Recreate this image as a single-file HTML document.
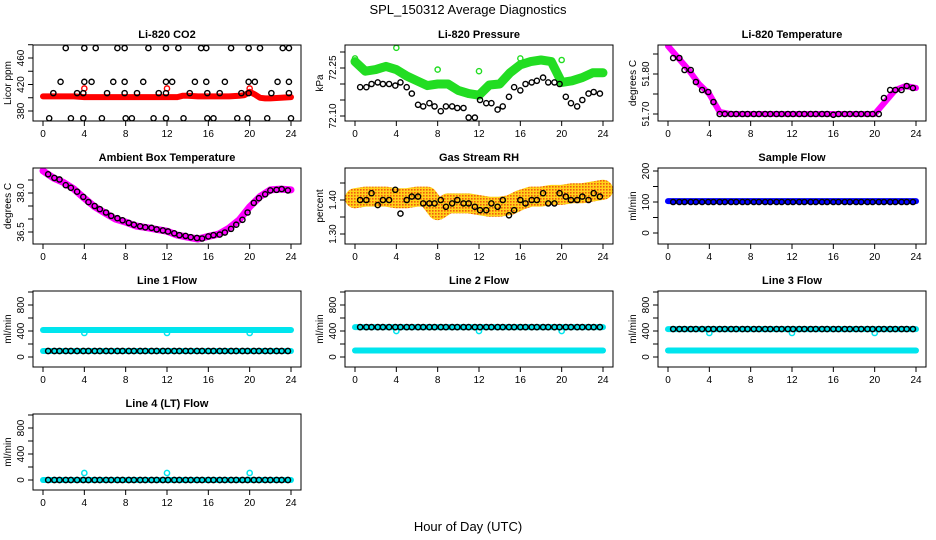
<!DOCTYPE html>
<html><head><meta charset="utf-8">
<style>
html,body{margin:0;padding:0;background:#fff;}
svg{display:block;font-family:"Liberation Sans",Arial,sans-serif;}
</style></head>
<body>
<svg id="chart" width="936" height="540" viewBox="0 0 936 540">
<defs>
<pattern id="rhpat" width="3" height="3" patternUnits="userSpaceOnUse">
<rect width="3" height="3" fill="#ffd21a"/><rect x="0" y="0" width="1.6" height="1.6" fill="#f05a10"/>
</pattern>
</defs>
<text x="468" y="14" text-anchor="middle" font-size="13">SPL_150312  Average Diagnostics</text>
<text x="468" y="531" text-anchor="middle" font-size="13">Hour of Day (UTC)</text>
</svg>
<script>
// shared hours for black circle series
const blackHours = [0.5,1.1,1.6,2.2,2.7,3.3,3.9,4.4,5.0,5.5,6.1,6.6,7.2,7.7,8.3,8.8,9.4,9.9,10.5,11.0,11.6,12.1,12.7,13.2,13.8,14.3,14.9,15.4,16.0,16.5,17.1,17.6,18.2,18.7,19.3,19.8,20.4,20.9,21.5,22.0,22.6,23.1,23.7];
const hourly = [0,1,2,3,4,5,6,7,8,9,10,11,12,13,14,15,16,17,18,19,20,21,22,23,24];
const xTicks = [0,4,8,12,16,20,24];

// CO2
const co2BlackHours = [2.2,4.0,5.1,7.2,7.9,10.2,11.9,13.1,15.3,15.8,18.2,19.9,21.0,23.2,23.8, 1.7,4.0,4.7,6.8,7.9,9.7,11.9,12.5,14.7,15.8,17.6,19.9,20.5,22.7,23.8, 1.0,3.3,3.9,6.2,7.9,9.1,11.2,11.9,14.2,15.9,17.1,19.2,19.9,22.1,23.8, 0.6,2.7,3.9,5.7,8.0,8.6,10.7,11.9,13.6,15.9,16.5,18.8,19.8,21.7,24.0];
const co2BlackVals = [475,475,475,475,475,475,475,475,475,475,475,475,475,475,475, 424,424,424,424,424,424,424,424,424,424,424,424,424,424,424, 407,407,407,407,407,407,407,407,407,407,407,407,407,407,407, 369,369,369,369,369,369,369,369,369,369,369,369,369,369,369];
const co2RedHours = [0,1,2,3,4,5,6,7,8,9,10,11,12,13,13.5,14,15,16,17,18,19,19.5,20,20.5,21,21.5,22,23,24];
const co2RedVals = [402,402,402,402,401,401,401,401,401,401,401,401,401,401,403,403,402,402,402,402,403,404,409,405,400,399,399,400,401];
const co2RedOutHours = [4,12,20];
const co2RedOutVals = [414,414,414];

// Pressure
const presGreen = [72.27,72.24,72.245,72.255,72.245,72.225,72.21,72.195,72.2,72.2,72.18,72.17,72.165,72.197,72.2,72.235,72.26,72.27,72.275,72.27,72.205,72.21,72.22,72.235,72.235];
const presGreenOutHours = [4,0,8,12,16,20];
const presGreenOutVals = [72.313,72.28,72.245,72.24,72.28,72.275];
const presBlack = [72.19,72.19,72.2,72.205,72.2,72.2,72.195,72.205,72.19,72.17,72.135,72.13,72.14,72.13,72.115,72.13,72.13,72.125,72.125,72.095,72.095,72.15,72.14,72.14,72.12,72.13,72.16,72.19,72.18,72.2,72.205,72.21,72.22,72.205,72.205,72.2,72.16,72.14,72.13,72.15,72.17,72.175,72.17];

// Li-820 temperature
const tempLine = [51.87,51.84,51.81,51.775,51.75,51.705,51.70,51.70,51.70,51.70,51.70,51.70,51.70,51.70,51.70,51.70,51.70,51.70,51.70,51.70,51.70,51.73,51.76,51.77,51.765];
const tempBlack = [51.84,51.84,51.81,51.81,51.78,51.76,51.755,51.73,51.70,51.70,51.70,51.70,51.70,51.70,51.70,51.70,51.70,51.70,51.70,51.70,51.70,51.70,51.70,51.70,51.70,51.70,51.70,51.70,51.698,51.70,51.70,51.70,51.70,51.70,51.70,51.70,51.70,51.74,51.76,51.76,51.76,51.77,51.765];

// Ambient box temperature
const ambLine = [38.85,38.58,38.4,38.15,37.8,37.47,37.23,37.0,36.88,36.73,36.67,36.6,36.53,36.38,36.3,36.23,36.33,36.42,36.65,36.97,37.47,37.86,38.12,38.15,38.12];
const ambBlack = [38.72,38.58,38.52,38.3,38.2,38.05,37.85,37.65,37.5,37.38,37.25,37.12,37.03,36.95,36.85,36.78,36.72,36.68,36.66,36.6,36.56,36.52,36.45,36.38,36.35,36.3,36.27,36.25,36.33,36.38,36.4,36.48,36.62,36.78,36.97,37.25,37.62,37.8,37.95,38.1,38.12,38.15,38.1];

// Gas stream RH
const rhMean = [1.405,1.41,1.41,1.41,1.405,1.405,1.41,1.41,1.37,1.39,1.39,1.39,1.385,1.38,1.38,1.385,1.40,1.41,1.41,1.415,1.415,1.42,1.42,1.425,1.43];
const rhBlack = [1.40,1.40,1.42,1.385,1.40,1.40,1.43,1.36,1.40,1.41,1.41,1.39,1.39,1.39,1.40,1.38,1.39,1.40,1.39,1.39,1.38,1.37,1.37,1.39,1.38,1.40,1.355,1.37,1.40,1.39,1.40,1.40,1.42,1.39,1.39,1.42,1.41,1.40,1.40,1.41,1.40,1.42,1.41];

// Flows
const spanHours = [0,24];
const sampleBlue = [103,103];
const sampleBlack = [100,100,100,100,100,100,100,100,100,100,100,100,100,100,100,100,100,100,100,100,100,100,100,100,100,100,100,100,100,100,100,100,100,100,100,100,100,100,100,100,100,100,100];
const line1CyanHi = [415,415];
const line1CyanLo = [92,92];
const line1Black = [92,92,92,92,92,92,92,92,92,92,92,92,92,92,92,92,92,92,92,92,92,92,92,92,92,92,92,92,92,92,92,92,92,92,92,92,92,92,92,92,92,92,92];
const line1Out = [370,370,370];
const line2CyanHi = [460,460];
const line2CyanLo = [100,100];
const line2Black = [460,460,460,460,460,460,460,460,460,460,460,460,460,460,460,460,460,460,460,460,460,460,460,460,460,460,460,460,460,460,460,460,460,460,460,460,460,460,460,460,460,460,460];
const line2Out = [400,400,400];
const line3CyanHi = [430,430];
const line3CyanLo = [100,100];
const line3Black = [430,430,430,430,430,430,430,430,430,430,430,430,430,430,430,430,430,430,430,430,430,430,430,430,430,430,430,430,430,430,430,430,430,430,430,430,430,430,430,430,430,430,430];
const line3Out = [370,370,370];
const line4Cyan = [0,0];
const line4Black = [0,0,0,0,0,0,0,0,0,0,0,0,0,0,0,0,0,0,0,0,0,0,0,0,0,0,0,0,0,0,0,0,0,0,0,0,0,0,0,0,0,0,0];
const line4Out = [108,108,108];
const outHours = [4,12,20];

const NS = "http://www.w3.org/2000/svg";
const svg = document.getElementById("chart");
const colLeft = [33,345,658], rowTop = [45,168,291,414], W = 268, H = 76;

function mk(tag, attrs, parent){
  const e = document.createElementNS(NS, tag);
  for (const k in attrs) e.setAttribute(k, attrs[k]);
  (parent||svg).appendChild(e);
  return e;
}

function panel(p){
  const g = mk("g", {});
  
  
  const L = colLeft[p.col], T = rowTop[p.row];
  const xs = h => L + 10 + h * (248/24);
  const ys = v => p.p0 + (v - p.v0) * (p.p1 - p.p0) / (p.v1 - p.v0);
  p.g = g; p.xs = xs; p.ys = ys;
  const clip = mk("clipPath", {id: "clip" + p.name}, g);
  mk("rect", {x: L, y: T, width: W, height: H}, clip);
  const plot = mk("g", {"clip-path": "url(#clip" + p.name + ")"}, g);
  p.plot = plot;
  p.draw(p);
  const frame = mk("rect", {x: L, y: T, width: W, height: H, fill: "none", stroke: "#000", "stroke-width": 1}, g);
  
  
  const t = mk("text", {x: L + W/2, y: T - 7, "text-anchor": "middle", "font-size": 11, "font-weight": "bold"}, g);
  t.textContent = p.title;
  
  
  xTicks.forEach(h => {
    mk("line", {x1: xs(h), x2: xs(h), y1: T + H, y2: T + H + 5, stroke: "#000"}, g);
    const lt = mk("text", {x: xs(h), y: T + H + 16, "text-anchor": "middle", "font-size": 10}, g);
    lt.textContent = h;
    
    
  });
  p.yTicks.forEach((v, i) => {
    const y = ys(v);
    mk("line", {x1: L - 5, x2: L, y1: y, y2: y, stroke: "#000"}, g);
    if (p.yLabels[i] !== "") {
      const lt = mk("text", {x: 0, y: 0, "text-anchor": "middle", "font-size": 10, transform: "translate(" + (L - 9) + "," + y + ") rotate(-90)"}, g);
      lt.textContent = p.yLabels[i];
      
      
    }
  });
  const yl = mk("text", {x: 0, y: 0, "text-anchor": "middle", "font-size": 10, transform: "translate(" + (L - 22) + "," + (T + H/2) + ") rotate(-90)"}, g);
  yl.textContent = p.ylab;
  
  
}

function line(p, hs, vs, color, w){
  const d = hs.map((h, i) => (i ? "L" : "M") + p.xs(h).toFixed(1) + "," + p.ys(vs[i]).toFixed(1)).join("");
  const e = mk("path", {d: d, fill: "none", stroke: color, "stroke-width": w, "stroke-linejoin": "round", "stroke-linecap": "round"}, p.plot);
  
  
}
function pts(p, hs, vs, color, r, sw){
  hs.forEach((h, i) => {
    const c = mk("circle", {cx: p.xs(h), cy: p.ys(vs[i]), r: r || 2.6, fill: "none", stroke: color, "stroke-width": sw || 1.4}, p.plot);
    
    
  });
}
function flowPanel(p, hi, lo, black, out, outColor){
  if (hi) line(p, spanHours, hi, "#00e5ee", 6);
  if (lo) line(p, spanHours, lo, "#00e5ee", 6);
  pts(p, outHours, out, "#00e5ee", 2.6, 1.5);
  pts(p, blackHours, black, "#000", 2.6, 1.5);
}
const flowTicks = [0,200,400,600,800,1000], flowLabels = ["0","","400","","800",""];

const panels = [
  {name:"co2-panel", col:0,row:0,title:"Li-820 CO2",ylab:"Licor ppm",v0:380,p0:111,v1:460,p1:58,
   yTicks:[380,400,420,440,460,480],yLabels:["380","","420","","460",""],
   draw:p=>{ line(p,co2RedHours,co2RedVals,"#ff0000",6); pts(p,co2RedOutHours,co2RedOutVals,"#ff0000"); pts(p,co2BlackHours,co2BlackVals,"#000"); }},
  {name:"pressure-panel", col:1,row:0,title:"Li-820 Pressure",ylab:"kPa",v0:72.10,p0:116,v1:72.25,p1:68,
   yTicks:[72.10,72.15,72.20,72.25,72.30],yLabels:["72.10","","","72.25",""],
   draw:p=>{ line(p,hourly,presGreen,"#22dd22",9); pts(p,presGreenOutHours,presGreenOutVals,"#22dd22"); pts(p,blackHours,presBlack,"#000"); }},
  {name:"licor-temp-panel", col:2,row:0,title:"Li-820 Temperature",ylab:"degrees C",v0:51.70,p0:114,v1:51.80,p1:74,
   yTicks:[51.70,51.75,51.80,51.85],yLabels:["51.70","","51.80",""],
   draw:p=>{ line(p,hourly,tempLine,"#ff00ff",6); pts(p,blackHours,tempBlack,"#000"); }},
  {name:"ambient-temp-panel", col:0,row:1,title:"Ambient Box Temperature",ylab:"degrees C",v0:36.5,p0:232,v1:38.0,p1:193,
   yTicks:[36.5,37.0,37.5,38.0,38.5],yLabels:["36.5","","","38.0",""],
   draw:p=>{ line(p,hourly,ambLine,"#ff00ff",7); pts(p,blackHours,ambBlack,"#000"); }},
  {name:"rh-panel", col:1,row:1,title:"Gas Stream RH",ylab:"percent",v0:1.30,p0:234,v1:1.40,p1:200,
   yTicks:[1.30,1.35,1.40,1.45],yLabels:["1.30","","1.40",""],
   draw:p=>{ line(p,hourly,rhMean,"url(#rhpat)",20); pts(p,blackHours,rhBlack,"#000"); }},
  {name:"sample-flow-panel", col:2,row:1,title:"Sample Flow",ylab:"ml/min",v0:0,p0:233,v1:200,p1:171,
   yTicks:[0,50,100,150,200],yLabels:["0","","100","","200"],
   draw:p=>{ line(p,spanHours,sampleBlue,"#0000ff",6); pts(p,blackHours,sampleBlack,"#000"); }},
  {name:"line1-flow-panel", col:0,row:2,title:"Line 1 Flow",ylab:"ml/min",v0:0,p0:357,v1:400,p1:331,
   yTicks:flowTicks,yLabels:flowLabels, draw:p=>flowPanel(p,line1CyanHi,line1CyanLo,line1Black,line1Out)},
  {name:"line2-flow-panel", col:1,row:2,title:"Line 2 Flow",ylab:"ml/min",v0:0,p0:357,v1:400,p1:331,
   yTicks:flowTicks,yLabels:flowLabels, draw:p=>flowPanel(p,line2CyanHi,line2CyanLo,line2Black,line2Out)},
  {name:"line3-flow-panel", col:2,row:2,title:"Line 3 Flow",ylab:"ml/min",v0:0,p0:357,v1:400,p1:331,
   yTicks:flowTicks,yLabels:flowLabels, draw:p=>flowPanel(p,line3CyanHi,line3CyanLo,line3Black,line3Out)},
  {name:"line4-flow-panel", col:0,row:3,title:"Line 4 (LT) Flow",ylab:"ml/min",v0:0,p0:480,v1:400,p1:454,
   yTicks:flowTicks,yLabels:flowLabels, draw:p=>flowPanel(p,line4Cyan,null,line4Black,line4Out)}
];
panels.forEach(panel);
</script>
</body></html>
